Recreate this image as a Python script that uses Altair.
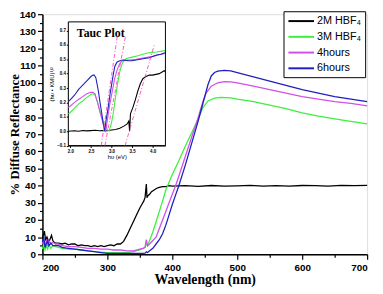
import altair as alt
import pandas as pd

SERIES = ["2M HBF₄", "3M HBF₄", "4hours", "6hours"]
COLORS = ["#000000", "#3cf03c", "#d050ea", "#2020c0"]

# ---- main spectra (wavelength nm, % diffuse reflectance) ----
WL_BLACK = [200, 202, 203, 205, 207, 210, 212, 214, 216, 218, 220, 225, 230, 235, 240, 245, 250, 255, 260, 265,
            270, 275, 280, 285, 290, 295, 300, 305, 310, 315, 320, 325, 330, 335, 340, 345, 350, 353, 356, 358,
            359, 360, 361, 362, 365, 368, 372, 376, 380, 385, 390, 395, 400, 420, 440, 460, 480, 500, 520, 540,
            560, 580, 600, 620, 640, 660, 680, 700]
R_BLACK = [9, 12, 13.5, 8, 10, 7, 9, 11, 8, 7, 6.5, 6.5, 6, 6.5, 5.5, 6, 6, 5, 5.5, 5,
           5, 4.5, 5, 4.5, 5, 4.5, 5, 5.5, 5, 6, 6, 7.5, 11, 15, 19, 23, 27, 29, 31, 33,
           37, 41, 33, 34, 35, 36.5, 37.5, 38.5, 39, 39.5, 39.5, 40, 39.8, 40, 39.6, 40.1, 39.7, 39.9, 40.2, 39.8,
           40, 39.7, 40.1, 40, 39.8, 40.2, 40, 40.2]

WL_GREEN = [200, 202, 204, 206, 208, 210, 213, 216, 220, 225, 230, 240, 250, 260, 270, 280, 290, 300, 310, 320,
            330, 340, 350, 355, 358, 360, 362, 365, 370, 375, 380, 385, 390, 395, 400, 410, 420, 430, 440, 447,
            455, 465, 475, 490, 500, 525, 550, 575, 600, 625, 650, 675, 700]
R_GREEN = [3, 6, 2.5, 5, 3, 5.5, 3.5, 5, 4.5, 4, 3.5, 3, 3, 2.5, 2, 1.5, 1.2, 1, 1, 1,
           1, 1.5, 2.5, 3.5, 4, 6, 5, 8, 13, 19, 25, 31, 37.5, 42, 46.5, 54.5, 63, 71, 79, 85.5,
           89.4, 91, 91.5, 91.2, 90.5, 89, 87, 85, 82.5, 80.5, 79, 77.5, 76]

WL_MAGENTA = [200, 202, 204, 206, 208, 210, 213, 216, 220, 225, 230, 240, 250, 260, 270, 280, 290, 300, 310, 320,
              330, 340, 350, 355, 358, 360, 362, 365, 370, 375, 380, 385, 390, 395, 400, 405, 410, 420, 430, 440,
              447, 452, 460, 470, 480, 490, 500, 525, 550, 575, 600, 625, 650, 675, 700]
R_MAGENTA = [6, 9, 5, 8, 5.5, 8, 6, 7, 6, 6, 5, 4.5, 4.5, 4, 3.5, 3.5, 3, 3, 2.5, 2.5,
             2, 2, 3, 3.5, 4, 8.5, 5, 6, 8, 10, 15, 20, 25, 30, 35, 40, 45.5, 57, 68.5, 80,
             89, 94, 98, 100, 100.7, 100.5, 100, 98, 96, 94, 92, 90.5, 89, 88, 86.5]

WL_BLUE = [200, 202, 204, 206, 208, 210, 213, 216, 220, 225, 230, 240, 250, 260, 270, 280, 290, 300, 310, 320,
           330, 340, 350, 355, 358, 360, 362, 365, 370, 375, 380, 385, 390, 395, 400, 405, 410, 420, 430, 440,
           450, 455, 460, 465, 470, 480, 490, 500, 525, 550, 575, 600, 625, 650, 675, 700]
R_BLUE = [7, 10, 4, 6, 8, 5, 6.5, 5, 5, 5, 4, 3.5, 3, 2.5, 2, 1.5, 1, 0.5, 0.5, 0.5,
          0.5, 0.5, 0.5, 0.5, 0.7, 1.5, 1, 2, 3.5, 6, 8.5, 12, 17, 23, 29, 34.5, 40, 52, 65, 78,
          92, 99, 104, 106, 106.8, 107.3, 107, 106, 103.5, 101, 98.5, 96, 94, 92, 90.5, 89]

# ---- Tauc plot inset (photon energy eV, (hv*KMU)^1/2) ----
E_BLACK = [1.95, 2.1, 2.2, 2.3, 2.4, 2.5, 2.6, 2.7, 2.8, 2.9, 3.0, 3.1, 3.2, 3.3, 3.38, 3.42, 3.44, 3.46, 3.52,
           3.58, 3.64, 3.7, 3.76, 3.84, 3.92, 4.0, 4.08, 4.16, 4.22, 4.28, 4.3]
T_BLACK = [0.0, 0.003, 0.0, 0.005, 0.002, 0.004, 0.006, 0.003, 0.005, 0.003, 0.008, 0.012, 0.02, 0.035, 0.05,
           0.07, 0.0, 0.12, 0.165, 0.22, 0.28, 0.33, 0.365, 0.38, 0.39, 0.39, 0.395, 0.4, 0.41, 0.42, 0.415]

E_GREEN = [1.95, 2.0, 2.1, 2.2, 2.3, 2.4, 2.5, 2.55, 2.6, 2.66, 2.72, 2.8, 2.88, 2.94, 3.0, 3.04, 3.08, 3.12,
           3.16, 3.2, 3.24, 3.28, 3.36, 3.5, 3.64, 3.76, 3.9, 4.1, 4.3]
T_GREEN = [0.12, 0.13, 0.16, 0.19, 0.21, 0.235, 0.255, 0.26, 0.25, 0.2, 0.14, 0.07, 0.02, 0.0, 0.06, 0.12, 0.2,
           0.28, 0.35, 0.41, 0.455, 0.48, 0.505, 0.515, 0.525, 0.535, 0.545, 0.55, 0.56]

E_MAGENTA = [1.95, 2.0, 2.1, 2.2, 2.3, 2.4, 2.5, 2.55, 2.6, 2.66, 2.72, 2.78, 2.83, 2.86, 2.9, 2.96, 3.02, 3.08,
             3.14, 3.2, 3.26, 3.32, 3.45, 3.6, 3.8, 4.0, 4.2, 4.3]
T_MAGENTA = [0.165, 0.175, 0.2, 0.22, 0.24, 0.26, 0.27, 0.27, 0.26, 0.2, 0.13, 0.07, 0.02, 0.0, 0.08, 0.19, 0.28,
             0.37, 0.43, 0.47, 0.49, 0.495, 0.495, 0.5, 0.51, 0.52, 0.535, 0.54]

E_BLUE = [1.95, 2.0, 2.1, 2.2, 2.3, 2.4, 2.5, 2.55, 2.58, 2.62, 2.68, 2.72, 2.76, 2.8, 2.83, 2.87, 2.92, 2.96,
          3.0, 3.04, 3.08, 3.13, 3.2, 3.28, 3.4, 3.5, 3.6, 3.7, 3.8, 3.92, 4.0, 4.1, 4.2, 4.3]
T_BLUE = [0.205, 0.22, 0.25, 0.29, 0.32, 0.35, 0.38, 0.39, 0.39, 0.37, 0.28, 0.2, 0.13, 0.05, 0.0, 0.08, 0.165,
          0.25, 0.32, 0.39, 0.45, 0.48, 0.49, 0.495, 0.49, 0.49, 0.495, 0.5, 0.505, 0.51, 0.52, 0.53, 0.535, 0.545]

# tangent (band-gap extrapolation) lines: two end points each
TAN_ID = ["a", "a", "b", "b", "c", "c"]
TAN_E = [2.75, 3.14, 2.84, 3.34, 3.33, 4.04]
TAN_T = [-0.1, 0.66, -0.1, 0.66, -0.1, 0.60]

INSET_X_DOMAIN = [1.95, 4.31]
INSET_Y_DOMAIN = [-0.1, 0.76]

# ---------------- data frames ----------------
def frame(names, xs, ys, xn, yn):
    rows = []
    for n, xa, ya in zip(names, xs, ys):
        assert len(xa) == len(ya), n
        for a, b in zip(xa, ya):
            rows.append({"series": n, xn: a, yn: b})
    return pd.DataFrame(rows)

main_df = frame(SERIES, [WL_BLACK, WL_GREEN, WL_MAGENTA, WL_BLUE],
                [R_BLACK, R_GREEN, R_MAGENTA, R_BLUE], "wl", "r")
main_df["ord"] = main_df["series"].map({s: i for i, s in enumerate(SERIES)})
inset_df = frame(SERIES, [E_BLACK, E_GREEN, E_MAGENTA, E_BLUE],
                 [T_BLACK, T_GREEN, T_MAGENTA, T_BLUE], "e", "t")
tan_df = pd.DataFrame({"id": TAN_ID, "e": TAN_E, "t": TAN_T})
box_df = pd.DataFrame({"x0": [INSET_X_DOMAIN[0]], "x1": [INSET_X_DOMAIN[1]],
                       "y0": [INSET_Y_DOMAIN[0]], "y1": [INSET_Y_DOMAIN[1]]})

PAD_L, PAD_T = 35, 4
W, H = 330, 244
SANS = "Liberation Sans"
SERIF = "Liberation Serif"

x_main = alt.X("wl:Q", scale=alt.Scale(domain=[200, 700], nice=False, zero=False),
               axis=alt.Axis(values=list(range(200, 701, 50)),
                             labelExpr="datum.value % 100 === 0 ? datum.label : ''",
                             tickSize={"condition": {"test": "datum.value % 100 === 0", "value": 5}, "value": 3},
                             grid=False, title="Wavelength (nm)", titleFont=SERIF, titleFontSize=14,
                             titleFontWeight="bold", titleColor="black", titleY=26, titleBaseline="middle",
                             labelFont=SANS, labelFontSize=10, labelFontWeight="bold", labelColor="black",
                             domainColor="black", domainWidth=1.5, tickColor="black", tickWidth=1.2,
                             labelPadding=3))
y_main = alt.Y("r:Q", scale=alt.Scale(domain=[0, 140], nice=False, zero=False),
               axis=alt.Axis(values=list(range(0, 141, 5)),
                             labelExpr="datum.value % 10 === 0 ? datum.label : ''",
                             tickSize={"condition": {"test": "datum.value % 10 === 0", "value": 5}, "value": 3},
                             grid=False, title="% Diffuse Reflectance", titleFont=SERIF, titleFontSize=13,
                             titleFontWeight="bold", titleColor="black", titleX=-28, titleY=H / 2,
                             titleBaseline="middle", titleAlign="center", titleAngle=270,
                             labelFont=SANS, labelFontSize=10, labelFontWeight="bold", labelColor="black",
                             domainColor="black", domainWidth=1.5, tickColor="black", tickWidth=1.2,
                             labelPadding=2))

main = alt.Chart(main_df).mark_line(strokeWidth=1.3).encode(
    x=x_main, y=y_main,
    color=alt.Color("series:N", scale=alt.Scale(domain=SERIES, range=COLORS),
                    legend=alt.Legend(orient="none", legendX=245, legendY=-3, title=None,
                                      strokeColor="black", fillColor="white", padding=4,
                                      symbolType="M-2.6,0L2.6,0", symbolSize=100, symbolStrokeWidth=2,
                                      symbolOffset=8, labelFont=SANS, labelFontSize=11, labelColor="black",
                                      rowPadding=5, labelOffset=10)),
    order="ord:Q",
)

# inset scales: placed inside the plot area via pixel ranges
IX0, IX1 = 26.3, 125.0
IY_TOP, IY_BOT = 7.8, 133.5
ix_scale = alt.Scale(domain=INSET_X_DOMAIN, range=[IX0, IX1], nice=False, zero=False)
iy_scale = alt.Scale(domain=INSET_Y_DOMAIN, range=[IY_BOT, IY_TOP], nice=False, zero=False)

inset_x_axis = alt.Axis(orient="bottom", offset=-(H - IY_BOT), values=[2.0, 2.5, 3.0, 3.5, 4.0], format=".1f",
                        grid=False, title="hυ (eV)", titleFont=SANS, titleFontSize=6, titleFontWeight="normal",
                        titleColor="black", titlePadding=1, labelFont=SANS, labelFontSize=4.5,
                        labelFontWeight="bold", labelColor="black", labelPadding=1, tickSize=2,
                        domainColor="black", tickColor="black", domainWidth=1)
inset_y_axis = alt.Axis(orient="left", offset=-IX0, values=[-0.1, 0.0, 0.1, 0.2, 0.3, 0.4, 0.5, 0.6, 0.7],
                        format=".1f", grid=False, title="(hυ • KMU)¹/²", titleFont=SANS, titleFontSize=6,
                        titleFontWeight="normal", titleColor="black", titlePadding=2, labelFont=SANS,
                        labelFontSize=4.5, labelFontWeight="bold", labelColor="black", labelPadding=1, tickSize=2,
                        domainColor="black", tickColor="black", domainWidth=1)

box = alt.Chart(box_df).mark_rect(fill="white", stroke="black", strokeWidth=1).encode(
    x=alt.X("x0:Q", scale=ix_scale, axis=inset_x_axis), x2="x1:Q",
    y=alt.Y("y0:Q", scale=iy_scale, axis=inset_y_axis), y2="y1:Q",
)

inset_lines = alt.Chart(inset_df).mark_line(strokeWidth=1.1).encode(
    x=alt.X("e:Q", scale=ix_scale, axis=None),
    y=alt.Y("t:Q", scale=iy_scale, axis=None),
    color=alt.Color("series:N", scale=alt.Scale(domain=SERIES, range=COLORS), legend=None),
)

tangents = alt.Chart(tan_df).mark_line(strokeWidth=0.9, color="#ff44bb", strokeDash=[4, 2, 1, 2]).encode(
    x=alt.X("e:Q", scale=ix_scale, axis=None),
    y=alt.Y("t:Q", scale=iy_scale, axis=None),
    detail="id:N",
)

tauc = alt.Chart(pd.DataFrame({"label": ["Tauc Plot"]})).mark_text(
    font=SERIF, fontSize=12, fontWeight="bold", color="black", align="left", baseline="middle"
).encode(text="label:N", x=alt.value(35), y=alt.value(19))

chart = alt.layer(main, box, inset_lines, tangents, tauc).resolve_scale(
    x="independent", y="independent", color="independent"
).properties(
    width=W, height=H,
    autosize=alt.AutoSizeParams(type="none"),
    padding={"left": PAD_L, "top": PAD_T, "right": 8, "bottom": 34},
).configure_view(stroke="black", strokeWidth=1.5).configure(background="white")

chart.save("out.html", embed_options={"renderer": "svg", "actions": False})
